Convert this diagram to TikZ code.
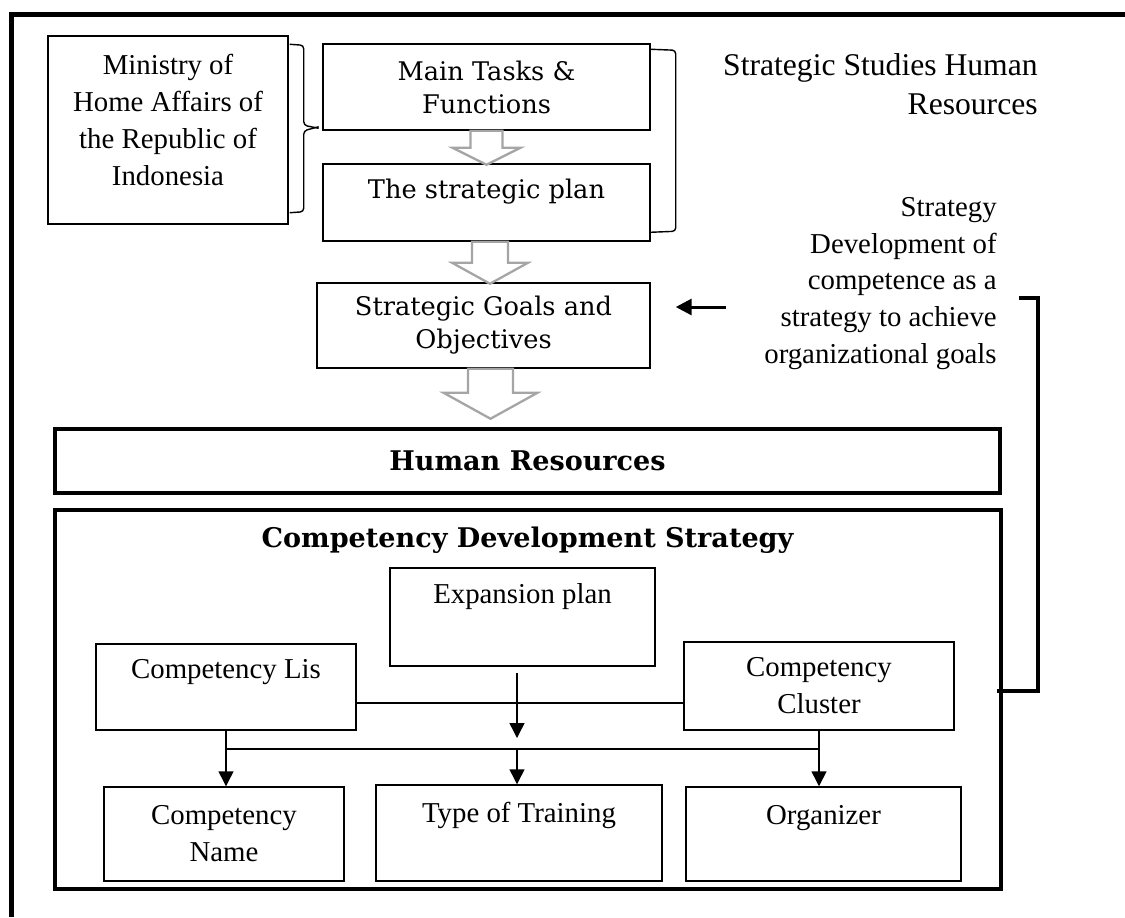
\documentclass[tikz,border=0pt]{standalone}
\usepackage{fontspec}
\setmainfont{Liberation Serif}
\newfontfamily\bookman{DejaVu Serif}
\usetikzlibrary{arrows.meta,calc}
\definecolor{arrowgray}{RGB}{165,165,165}
\tikzset{
  box/.style={draw,line width=0.85pt,inner sep=0pt},
  bigbox/.style={draw,line width=2.3pt,inner sep=0pt},
  txt/.style={font=\fontsize{16.4}{21}\selectfont,align=center,inner sep=0pt},
  btxt/.style={font=\bookman\fontsize{14.6}{18.8}\selectfont,align=center,inner sep=0pt},
  head/.style={font=\bookman\bfseries\fontsize{15.4}{18}\selectfont,inner sep=0pt},
  arr/.style={-{Triangle[length=8.5pt,width=8.5pt]},line width=0.8pt},
  pics/hollow/.style n args={4}{code={
    \draw[arrowgray,fill=white,line width=1.3pt] (-#1,0) -- (-#1,#3) -- (-#2,#3)
      -- (0,#4) -- (#2,#3) -- (#1,#3) -- (#1,0) -- cycle;
  }},
}
\begin{document}
\begin{tikzpicture}[x=0.02cm,y=-0.02cm]
\useasboundingbox (0,0) rectangle (1125,917);
%frame
\draw[line width=3pt] (11.5,917) -- (11.5,14.5) -- (1125,14.5);
%top part
\node[box,minimum width=4.8cm,minimum height=3.76cm] (ministry) at (168,130) {};
\node[txt] (ministry-t) at (168,120) {Ministry of\\Home Affairs of\\the Republic of\\Indonesia};
\node[box,btxt,minimum width=6.54cm,minimum height=1.72cm] (tasks) at (486.5,87) {Main Tasks \&\\Functions};
\node[box,minimum width=6.54cm,minimum height=1.54cm] (plan) at (486.5,202.5) {};
\node[btxt] (plan-t) at (486.5,192) {The strategic plan};
\node[box,btxt,minimum width=6.66cm,minimum height=1.7cm] (goals) at (483.5,325.5) {Strategic Goals and\\Objectives};
\pic at (tasks.south) {hollow={16}{34}{17}{34}};
\pic at ($(plan.south)+(3.5,0)$) {hollow={18}{38}{21}{42}};
\pic at ($(goals.south)+(7,0)$) {hollow={22.5}{47}{24}{50}};
%braces
\draw[line width=0.8pt,rounded corners=2pt] (ministry.north east) ++(1,9) -- ++(14,1) -- ++(0,80) -- ++(15,3);
\draw[line width=0.8pt,rounded corners=2pt] (ministry.south east) ++(1,-12) -- ++(14,-1) -- ++(0,-81) -- ++(15,-4);
\draw[line width=0.8pt,rounded corners=2pt] ($(tasks.north east)+(0,6)$) -- ++(25,1) -- ++(0,181) -- ++(-25,1);
%side texts
\node[txt,font=\fontsize{18}{22.5}\selectfont,align=right,anchor=east] (study) at (1038,84) {Strategic Studies Human\\Resources};
\node[txt,align=right,anchor=east] (strat) at (997,283.5) {Strategy\\Development of\\competence as a\\strategy to achieve\\organizational goals};
\draw[-{Triangle[length=9pt,width=9pt]},line width=1.7pt] ($(goals.east)+(75,-18.5)$) -- ($(goals.east)+(25,-18.5)$);
%human resources
\node[bigbox,head,minimum width=18.9cm,minimum height=1.28cm] (hr) at (527.5,461) {Human Resources};
\node[bigbox,minimum width=18.92cm,minimum height=7.58cm] (cds) at (528,699.5) {};
\node[head] (cds-t) at (527.5,540) {Competency Development Strategy};
\draw[line width=2pt] ($(strat.east)+(22,14.5)$) -- ++(19,0) coordinate (brk) -- (brk |- 0,691) -- (cds.east |- 0,691) -- ++(-6,0);
%competency boxes
\node[box,minimum width=5.3cm,minimum height=1.96cm] (exp) at (522.5,617) {};
\node[txt] (exp-t) at (522.5,597) {Expansion plan};
\node[box,minimum width=5.2cm,minimum height=1.72cm] (lis) at (226,687) {};
\node[txt] (lis-t) at (226,672) {Competency Lis};
\node[box,txt,minimum width=5.4cm,minimum height=1.76cm] (cluster) at (819,686) {Competency\\Cluster};
\node[box,txt,minimum width=4.8cm,minimum height=1.88cm] (name) at (224,834) {Competency\\Name};
\node[box,minimum width=5.72cm,minimum height=1.92cm] (train) at (519,833) {};
\node[txt] (train-t) at (519,815) {Type of Training};
\node[box,minimum width=5.5cm,minimum height=1.88cm] (org) at (823.5,834) {};
\node[txt] (org-t) at (823.5,818) {Organizer};
%links
\coordinate (mid) at ($(lis.east)+(0,16)$);
\draw[line width=0.8pt] (mid) -- (mid -| cluster.west);
\coordinate (hub) at (517,749);
\draw[arr] (hub |- exp.south) ++(0,6) -- ($(hub)+(0,-11)$);
\draw[line width=0.8pt] (lis.south) |- (hub) -| (cluster.south);
\draw[arr] (lis.south |- hub) -- (lis.south |- name.north);
\draw[arr] (hub) -- (hub |- train.north);
\draw[arr] (cluster.south |- hub) -- (cluster.south |- org.north);
\end{tikzpicture}
\end{document}
